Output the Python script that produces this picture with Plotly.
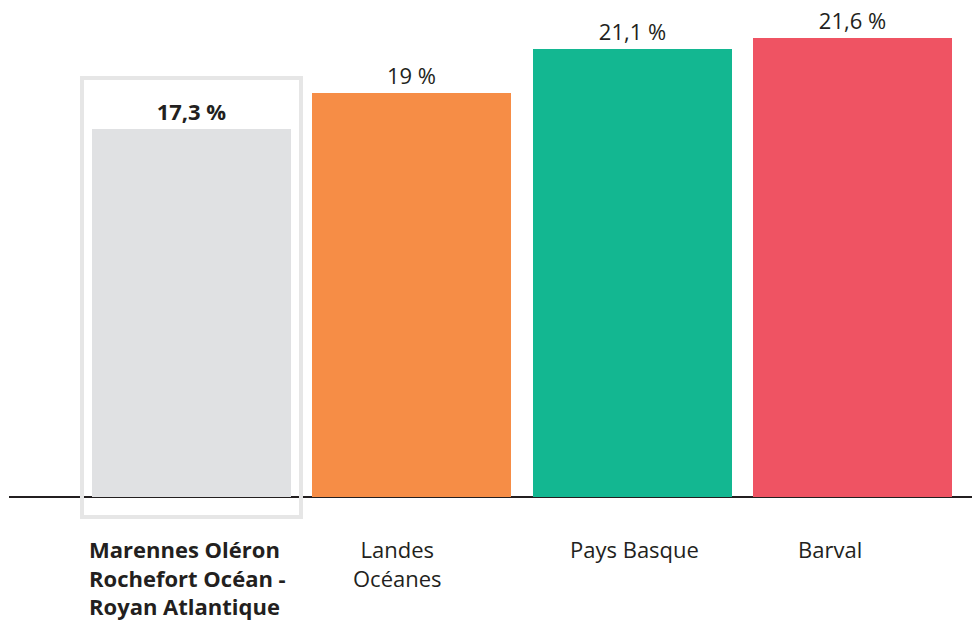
import plotly.graph_objects as go

categories = ["Marennes Oléron<br>Rochefort Océan -<br>Royan Atlantique", "Landes<br>Océanes", "Pays Basque", "Barval"]
values = [17.3, 19, 21.1, 21.6]
colors = ["#e0e1e3", "#f68d46", "#13b791", "#ef5363"]

xpos = list(range(len(categories)))
labels = [f"{v:g}".replace(".", ",") + " %" for v in values]
labels[0] = "<b>" + labels[0] + "</b>"

FONT = "Open Sans"
TXT = "#231f20"

fig = go.Figure()
fig.add_trace(go.Bar(
    x=xpos, y=values, width=0.9025,
    marker=dict(color=colors, line=dict(width=0)),
    text=labels, textposition="outside", cliponaxis=False,
    textfont=dict(family=FONT, size=22, color=TXT),
    hoverinfo="skip",
))

# highlight frame around first bar (paper coords so it is not clipped)
fig.add_shape(type="rect", xref="paper", yref="paper",
              x0=0.0758, x1=0.3032, y0=-0.0402, y1=0.843,
              line=dict(color="#e6e6e6", width=4), fillcolor="rgba(0,0,0,0)",
              layer="above")

# category labels
shifts = [(-0.4735, "left", 0), (1, "center", -14), (2, "center", 2), (3, "center", -23)]
for i, cat in enumerate(categories):
    xv, anchor, xs = shifts[i]
    txt = f"<b>{cat}</b>" if i == 0 else cat
    fig.add_annotation(x=(xv if i == 0 else i), y=0, xref="x", yref="y",
                       text=txt, showarrow=False, xanchor=anchor, yanchor="top",
                       align="left" if i == 0 else "center",
                       xshift=xs, yshift=-35,
                       font=dict(family=FONT, size=22, color=TXT))

fig.update_layout(
    width=972, height=620,
    margin=dict(l=9, r=0, t=0, b=123),
    plot_bgcolor="white", paper_bgcolor="white",
    showlegend=False,
    bargap=0,
    xaxis=dict(range=[-0.8277, 3.54], showticklabels=False, showgrid=False,
               zeroline=False, showline=False, ticks="", fixedrange=True),
    yaxis=dict(range=[0, 23.39], showticklabels=False, showgrid=False,
               zeroline=True, zerolinecolor="#231f20", zerolinewidth=2,
               showline=False, ticks="", fixedrange=True),
)

fig.write_html("out.html", config={"displayModeBar": False},
               post_script="document.body.style.margin='0';")
